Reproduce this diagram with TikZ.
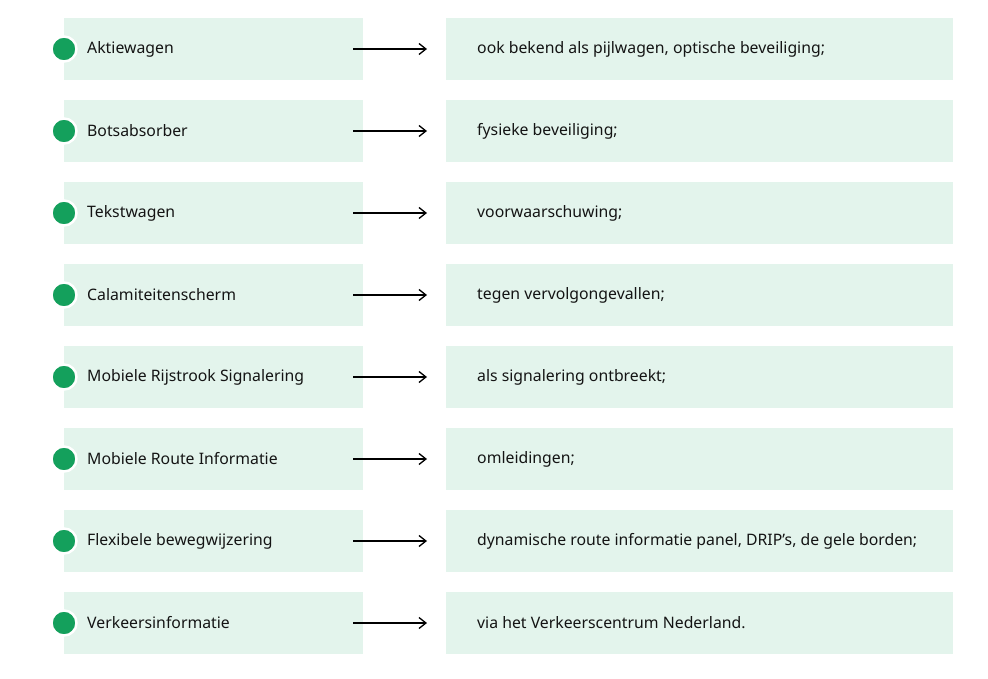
\documentclass[tikz,border=0pt]{standalone}
\usepackage{fontspec}
\setmainfont{Noto Sans}
\usetikzlibrary{arrows.meta}
\definecolor{boxfill}{HTML}{E3F4EC}
\definecolor{dotgreen}{HTML}{14A05C}
\tikzset{
  leftbox/.style={fill=boxfill, draw=none, minimum width=299pt, minimum height=62pt, inner sep=0pt, anchor=west},
  rightbox/.style={fill=boxfill, draw=none, minimum width=507pt, minimum height=62pt, inner sep=0pt, anchor=west},
  label/.style={anchor=west, inner sep=0pt, font=\fontsize{15.8}{18}\selectfont, text=black!92},
  bullet/.style={circle, fill=dotgreen, draw=white, line width=2.5pt, minimum size=25pt, inner sep=0pt},
  link/.style={-{Straight Barb[length=7pt,width=11pt,line width=1.3pt]}, line width=1.4pt, black}
}
\begin{document}
\begin{tikzpicture}[x=1pt,y=-1pt]
  \useasboundingbox[fill=white] (0,0) rectangle (988,679);
  \foreach \i/\l/\r in {
    1/Aktiewagen/{ook bekend als pijlwagen, optische beveiliging;},
    2/Botsabsorber/{fysieke beveiliging;},
    3/Tekstwagen/{voorwaarschuwing;},
    4/Calamiteitenscherm/{tegen vervolgongevallen;},
    5/Mobiele Rijstrook Signalering/{als signalering ontbreekt;},
    6/Mobiele Route Informatie/{omleidingen;},
    7/Flexibele bewegwijzering/{dynamische route informatie panel, DRIP's, de gele borden;},
    8/Verkeersinformatie/{via het Verkeerscentrum Nederland.}} {
    \pgfmathsetmacro{\yy}{49+82*(\i-1)}
    \node[leftbox] (L\i) at (64,\yy) {};
    \node[rightbox] (R\i) at (446,\yy) {};
    \node[bullet] (B\i) at (64,\yy) {};
    \node[label] (T\i) at (87,\yy) {\l};
    \node[label] (D\i) at (477,\yy) {\r};
    \coordinate (S\i) at (353,\yy);
    \coordinate (E\i) at (427,\yy);
    \draw[link] (S\i) -- (E\i);
  }
\end{tikzpicture}
\end{document}
